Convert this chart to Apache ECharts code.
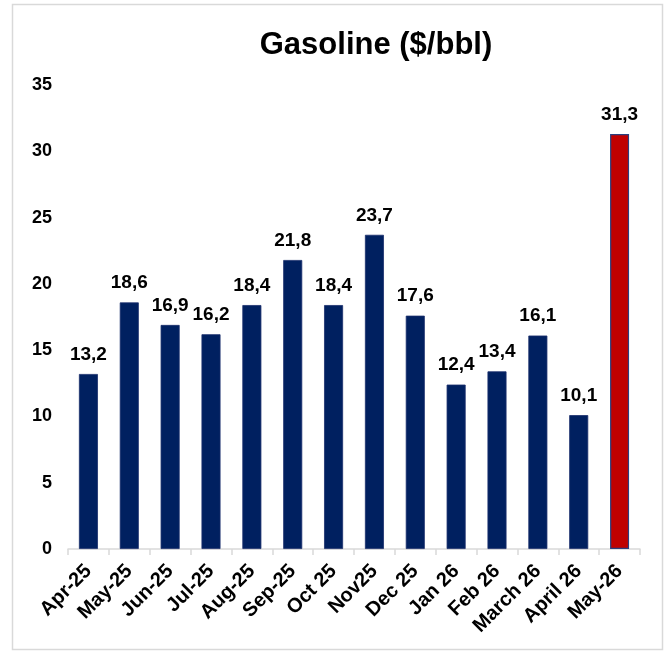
<!DOCTYPE html>
<html>
<head>
<meta charset="utf-8">
<script src="https://cdn.jsdelivr.net/npm/echarts@6/dist/echarts.min.js"></script>
<style>
html,body{margin:0;padding:0;background:#fff;}
#chart{width:666px;height:651px;}
</style>
</head>
<body>
<div id="chart"></div>
<script>
var categories = ['Apr-25','May-25','Jun-25','Jul-25','Aug-25','Sep-25','Oct 25','Nov25','Dec 25','Jan 26','Feb 26','March 26','April 26','May-26'];
var values = [13.2,18.6,16.9,16.2,18.4,21.8,18.4,23.7,17.6,12.4,13.4,16.1,10.1,31.3];
var yTicks = [0,5,10,15,20,25,30,35];
var titleText = 'Gasoline ($/bbl)';

var FONT = '"Liberation Sans", Arial, sans-serif';
var chart = echarts.init(document.getElementById('chart'), null, {renderer:'canvas'});
var data = values.map(function(v, i){
  var last = i === values.length - 1;
  return {
    value: v,
    itemStyle: last ? {color:'#C00000', borderColor:'#2B3F7E', borderWidth:1.2} : {color:'#002060', borderColor:'#1A2E6C', borderWidth:0.8}
  };
});
chart.setOption({
  animation:false,
  backgroundColor:'#fff',
  title:{
    text:titleText, left:371, top:25, textAlign:'center',
    textStyle:{fontFamily:FONT, fontWeight:'bold', fontSize:31, color:'#000'}
  },
  graphic:[{
    type:'rect', shape:{x:12.5,y:4.5,width:650,height:645},
    style:{fill:'none', stroke:'#d9d9d9', lineWidth:1.5}, silent:true
  }],
  grid:{left:68, right:26, top:85, bottom:102, containLabel:false},
  xAxis:{
    type:'category', data:categories,
    axisLine:{show:true, lineStyle:{color:'#d9d9d9', width:1.5}},
    axisTick:{show:true, alignWithLabel:false, length:6, lineStyle:{color:'#d9d9d9', width:1.5}},
    axisLabel:{rotate:45, interval:0, margin:19, fontFamily:FONT, fontWeight:'bold', fontSize:20, color:'#000'}
  },
  yAxis:{
    type:'value', min:yTicks[0], max:yTicks[yTicks.length-1], interval:5,
    axisLine:{show:false}, axisTick:{show:false}, splitLine:{show:false},
    axisLabel:{margin:16, fontFamily:FONT, fontWeight:'bold', fontSize:18, color:'#000'}
  },
  series:[{
    type:'bar', data:data, barWidth:19,
    label:{
      show:true, position:'top', distance:10,
      fontFamily:FONT, fontWeight:'bold', fontSize:19, color:'#000',
      formatter:function(p){return p.value.toFixed(1).replace('.', ',');}
    }
  }]
});
</script>
</body>
</html>
